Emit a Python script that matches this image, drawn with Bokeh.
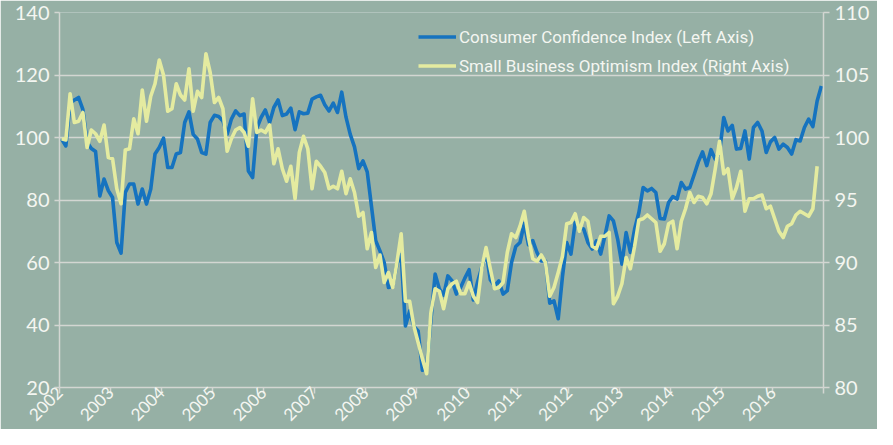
import math
from bokeh.plotting import figure
from bokeh.models import Range1d, LinearAxis, FixedTicker, Legend, LegendItem, ColumnDataSource
from bokeh.embed import file_html
from bokeh.resources import INLINE

# ---- data (monthly, starting Jan 2002) ----
START_YEAR = 2002
consumer_confidence = [
    99.5, 97.3, 111.0, 112.0, 112.8, 109.0, 98.5, 96.5, 95.5, 81.3, 86.7, 83.0,          # 2002
    80.8, 66.4, 63.0, 82.4, 85.1, 85.1, 78.7, 83.5, 78.7, 83.5, 94.7, 96.8,              # 2003
    99.8, 90.4, 90.4, 94.7, 95.2, 104.8, 108.2, 101.0, 99.5, 95.2, 94.7, 104.8,          # 2004
    107.1, 106.7, 105.3, 101.0, 105.9, 108.5, 107.0, 107.5, 89.3, 87.2, 103.0, 106.4,    # 2005
    108.8, 104.8, 109.6, 112.0, 107.0, 107.5, 109.4, 102.5, 108.2, 107.6, 107.8, 112.3,  # 2006
    113.0, 113.5, 110.5, 108.5, 111.0, 108.0, 114.5, 106.5, 101.0, 97.0, 90.0, 92.5,     # 2007
    89.0, 78.0, 67.0, 63.7, 60.0, 52.0, 52.5, 59.5, 62.5, 39.7, 44.5, 39.5,              # 2008
    38.1, 25.5, 26.5, 41.5, 56.3, 51.5, 49.5, 55.7, 54.1, 49.9, 52.0, 55.0,              # 2009
    57.7, 48.0, 53.8, 58.5, 63.5, 54.5, 52.5, 54.1, 49.9, 51.0, 60.0, 65.1,              # 2010
    66.4, 72.5, 65.6, 67.0, 63.2, 60.5, 60.5, 47.0, 47.7, 42.0, 55.5, 66.4,              # 2011
    62.7, 72.8, 71.0, 70.7, 66.4, 64.3, 66.9, 62.7, 68.5, 74.9, 73.3, 67.5,              # 2012
    59.5, 69.6, 63.2, 70.7, 76.0, 84.0, 82.9, 83.7, 82.4, 74.1, 73.9, 79.2,              # 2013
    81.1, 80.3, 85.6, 83.5, 84.0, 88.0, 92.2, 95.4, 91.0, 96.1, 93.0, 95.1,              # 2014
    106.4, 102.1, 103.9, 96.3, 96.5, 102.1, 93.1, 103.2, 104.8, 102.1, 95.2, 98.6,       # 2015
    100.0, 96.3, 97.9, 96.8, 94.7, 99.3, 98.9, 103.2, 105.9, 103.5, 111.7, 116.5,        # 2016
]
small_business = [
    99.9, 99.8, 103.5, 101.2, 101.3, 102.0, 99.2, 100.6, 100.3, 99.7, 101.0, 98.4,       # 2002
    98.3, 95.9, 94.7, 99.0, 99.1, 101.5, 100.3, 103.8, 101.3, 103.3, 104.3, 106.2,       # 2003
    105.0, 102.1, 102.3, 104.3, 103.4, 103.0, 105.5, 102.1, 103.7, 103.2, 106.7, 105.2,  # 2004
    102.8, 103.2, 102.3, 98.9, 99.9, 100.6, 100.8, 100.4, 99.3, 103.1, 100.4, 100.6,     # 2005
    100.4, 101.0, 97.9, 99.1, 97.5, 96.5, 97.7, 95.1, 98.8, 100.1, 99.1, 95.9,           # 2006
    98.1, 97.7, 97.2, 95.9, 96.1, 95.9, 97.3, 95.5, 96.7, 95.6, 93.7, 94.0,              # 2007
    91.1, 92.4, 89.6, 90.6, 88.4, 89.2, 88.0, 90.0, 92.3, 86.9, 86.9, 84.9,              # 2008
    83.6, 82.3, 81.1, 86.0, 87.9, 87.7, 86.3, 87.9, 88.3, 88.5, 87.5, 87.5,              # 2009
    88.4, 87.3, 86.8, 89.6, 91.2, 89.5, 87.9, 88.0, 88.4, 90.8, 92.3, 92.0,              # 2010
    92.9, 94.1, 92.0, 90.3, 90.1, 90.6, 90.0, 87.3, 88.0, 89.2, 90.5, 93.1,              # 2011
    93.2, 93.9, 92.5, 93.6, 93.3, 91.3, 91.1, 92.1, 92.1, 92.4, 86.7, 87.3,              # 2012
    88.3, 90.4, 89.5, 91.3, 93.4, 93.5, 93.8, 93.5, 93.2, 90.9, 91.5, 93.1,              # 2013
    93.3, 91.1, 93.3, 94.3, 95.6, 94.8, 95.3, 95.2, 94.7, 95.5, 97.5, 99.7,              # 2014
    97.1, 97.5, 95.1, 96.0, 97.3, 94.1, 95.1, 95.1, 95.3, 95.4, 94.3, 94.5,              # 2015
    93.5, 92.5, 92.0, 92.9, 93.1, 93.8, 94.1, 93.9, 93.7, 94.3, 97.7,                    # 2016
]
year_ticks = list(range(2002, 2018))
year_labels = [str(y) for y in range(2002, 2017)] + [""]
left_ticks = [20, 40, 60, 80, 100, 120, 140]
right_ticks = [80, 85, 90, 95, 100, 105, 110]
series_names = ["Consumer Confidence Index (Left Axis)", "Small Business Optimism Index (Right Axis)"]

# ---- style ----
BG = "#96B0A5"
BLUE = "#1673BF"
YELLOW = "#E4EBA0"
GRID = "#D3D6D2"
TXT = "#F4F6F1"
FONT = "Lato"

cc_src = ColumnDataSource(dict(x=[START_YEAR + (i + 0.5) / 12 for i in range(len(consumer_confidence))],
                               y=consumer_confidence))
sb_src = ColumnDataSource(dict(x=[START_YEAR + (i + 0.5) / 12 for i in range(len(small_business))],
                               y=small_business))

p = figure(width=877, height=429, output_backend="svg", toolbar_location=None,
           x_range=Range1d(2002, 2017), y_range=Range1d(20, 140),
           min_border_left=59, min_border_right=54, min_border_top=12, min_border_bottom=42)
p.extra_y_ranges = {"right": Range1d(80, 110)}
p.background_fill_color = BG
p.border_fill_color = BG
p.outline_line_color = None

r1 = p.line("x", "y", source=cc_src, line_color=BLUE, line_width=3.6, line_join="round")
r2 = p.line("x", "y", source=sb_src, line_color=YELLOW, line_width=3.6, line_join="round",
            y_range_name="right")

# axes
xa = p.xaxis[0]
xa.ticker = FixedTicker(ticks=year_ticks)
xa.major_label_overrides = {t: l for t, l in zip(year_ticks, year_labels)}
xa.major_label_orientation = math.pi / 4
xa.major_label_text_font = FONT
xa.major_label_text_font_size = "17px"
xa.major_label_text_color = TXT
xa.major_label_standoff = -4
xa.axis_line_color = GRID
xa.axis_line_width = 1.5
xa.major_tick_line_color = GRID
xa.major_tick_line_width = 1.5
xa.major_tick_out = 6
xa.major_tick_in = 0
xa.minor_tick_line_color = None

ya = p.yaxis[0]
ya.ticker = FixedTicker(ticks=left_ticks)
ya.major_label_text_font = FONT
ya.major_label_text_font_size = "20px"
ya.major_label_text_color = TXT
ya.major_label_standoff = 5
ya.axis_line_color = GRID
ya.axis_line_width = 1.5
ya.major_tick_line_color = GRID
ya.major_tick_line_width = 1.5
ya.major_tick_out = 5
ya.major_tick_in = 0
ya.minor_tick_line_color = None

ra = LinearAxis(y_range_name="right", ticker=FixedTicker(ticks=right_ticks))
ra.major_label_text_font = FONT
ra.major_label_text_font_size = "20px"
ra.major_label_text_color = TXT
ra.major_label_standoff = 5
ra.axis_line_color = GRID
ra.axis_line_width = 1.5
ra.major_tick_line_color = GRID
ra.major_tick_line_width = 1.5
ra.major_tick_out = 6
ra.major_tick_in = 0
ra.minor_tick_line_color = None
p.add_layout(ra, "right")

p.xgrid.visible = False
p.ygrid.ticker = FixedTicker(ticks=left_ticks)
p.ygrid.grid_line_color = GRID
p.ygrid.grid_line_width = 1.5

legend = Legend(items=[LegendItem(label=series_names[0], renderers=[r1]),
                       LegendItem(label=series_names[1], renderers=[r2])],
                location=(359, 310), glyph_width=38, glyph_height=23, label_standoff=3,
                spacing=6, padding=0, margin=0, border_line_color=None,
                background_fill_alpha=0, label_text_color=TXT,
                label_text_font="Roboto", label_text_font_size="17px")
p.add_layout(legend)

open("out.html", "w").write(file_html(p, INLINE))
